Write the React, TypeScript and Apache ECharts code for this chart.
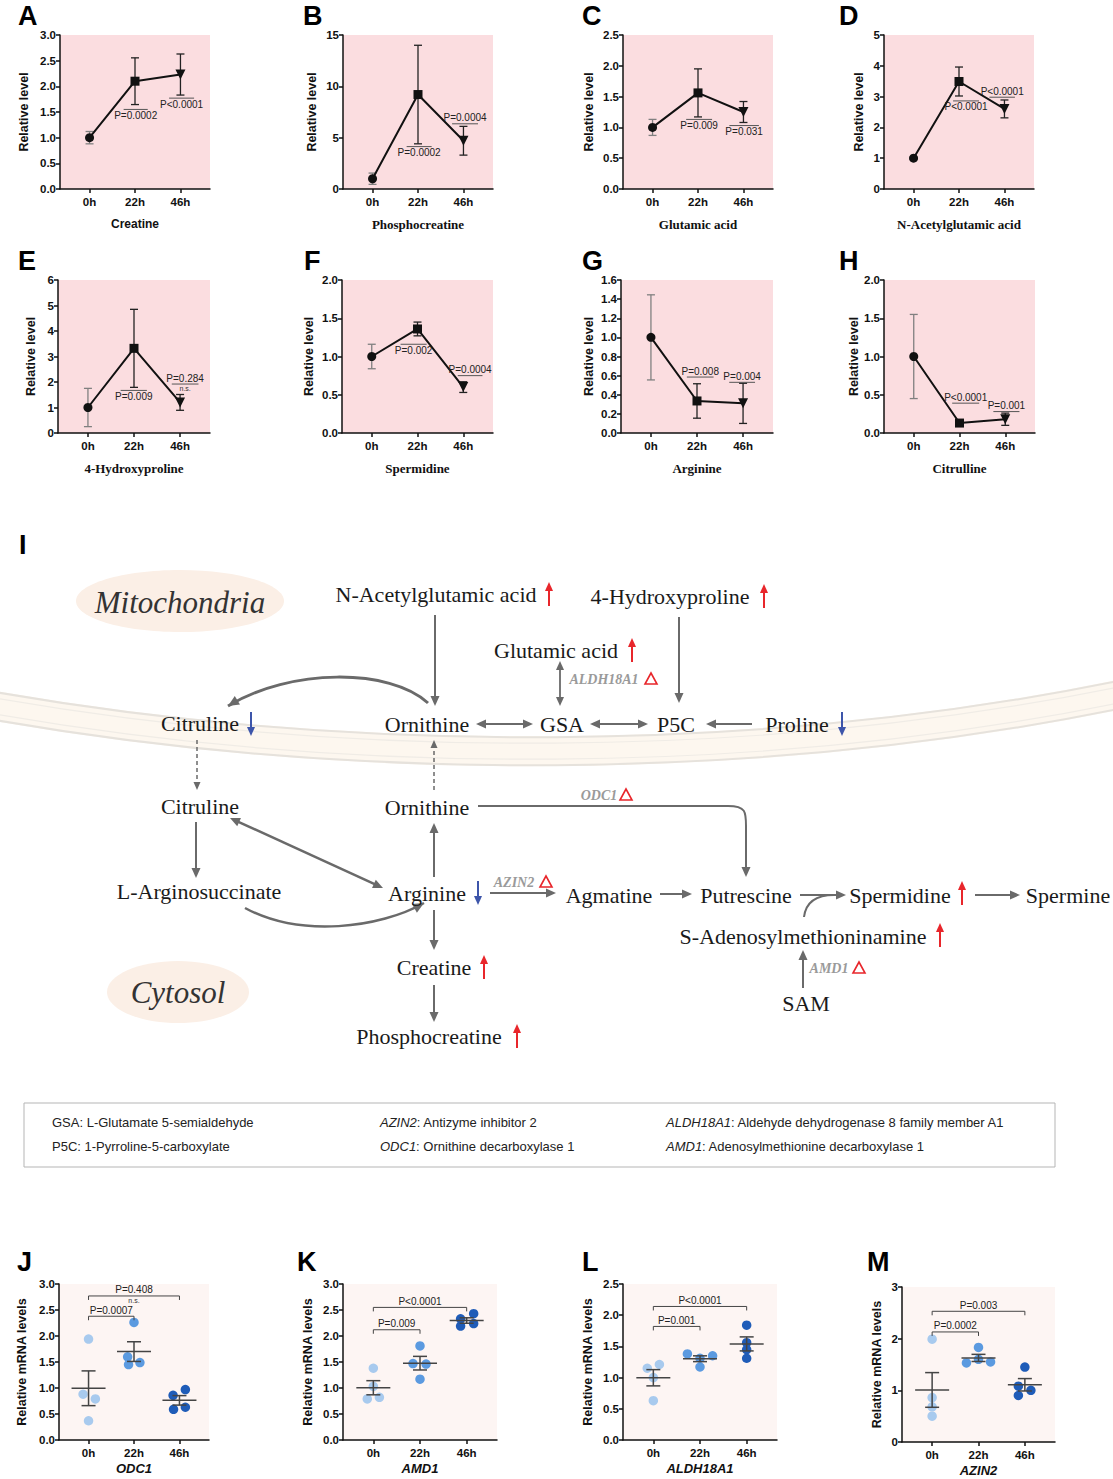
import React, { useEffect, useRef } from "react";
import * as echarts from "echarts";

// ---------------- DATA ----------------
const timeLabels = ["0h", "22h", "46h"];

// Panels A-H : mean and error bar half-length
const creatineMean = [1.0, 2.1, 2.23];
const creatineErr = [0.12, 0.455, 0.4];
const phosphocreatineMean = [1.0, 9.2, 4.7];
const phosphocreatineErr = [0.55, 4.8, 1.4];
const glutamicMean = [1.0, 1.56, 1.25];
const glutamicErr = [0.13, 0.39, 0.17];
const nagMean = [1.0, 3.49, 2.6];
const nagErr = [0.04, 0.47, 0.29];
const hypMean = [1.0, 3.32, 1.2];
const hypErr = [0.75, 1.53, 0.31];
const spermidineMean = [1.0, 1.36, 0.6];
const spermidineErr = [0.16, 0.09, 0.07];
const arginineMean = [1.0, 0.335, 0.31];
const arginineErr = [0.445, 0.18, 0.21];
const citrullineMean = [1.0, 0.13, 0.18];
const citrullineErr = [0.55, 0.02, 0.08];

// stat annotations: [timeIndex, y, lineFrom, lineTo, text, side, subText]
const creatineAnn = [[1, 1.55, -0.25, 0.28, "P=0.0002", "below", ""], [2, 1.77, -0.25, 0.3, "P<0.0001", "below", ""]];
const phosphocreatineAnn = [[1, 4.13, -0.25, 0.3, "P=0.0002", "below", ""], [2, 6.35, -0.25, 0.32, "P=0.0004", "above", ""]];
const glutamicAnn = [[1, 1.13, -0.26, 0.31, "P=0.009", "below", ""], [2, 1.03, -0.31, 0.34, "P=0.031", "below", ""]];
const nagAnn = [[1, 2.86, -0.13, 0.44, "P<0.0001", "below", ""], [2, 2.98, -0.33, 0.23, "P<0.0001", "above", ""]];
const hypAnn = [[1, 1.67, -0.29, 0.28, "P=0.009", "below", ""], [2, 1.92, -0.18, 0.4, "P=0.284", "above", "n.s."]];
const spermidineAnn = [[1, 1.16, -0.37, 0.2, "P=0.002", "below", ""], [2, 0.75, -0.12, 0.42, "P=0.0004", "above", ""]];
const arginineAnn = [[1, 0.585, -0.22, 0.36, "P=0.008", "above", ""], [2, 0.53, -0.3, 0.26, "P=0.004", "above", ""]];
const citrullineAnn = [[1, 0.39, -0.16, 0.43, "P<0.0001", "above", ""], [2, 0.28, -0.26, 0.31, "P=0.001", "above", ""]];

const metaboliteNames = ["Creatine", "Phosphocreatine", "Glutamic acid", "N-Acetylglutamic acid", "4-Hydroxyproline", "Spermidine", "Arginine", "Citrulline"];
const yMaxAH = [3, 15, 2.5, 5, 6, 2.0, 1.6, 2.0];
const yStepAH = [0.5, 5, 0.5, 1, 1, 0.5, 0.2, 0.5];
const yDecAH = [1, 0, 1, 0, 0, 1, 1, 1];

// Panels J-M : individual replicates
const odc1Values = [[1.94, 0.88, 0.79, 0.37], [2.26, 1.6, 1.49, 1.45], [0.97, 0.86, 0.63, 0.59]];
const amd1Values = [[1.38, 1.03, 0.79, 0.82], [1.81, 1.47, 1.46, 1.17], [2.33, 2.43, 2.19, 2.24]];
const aldh18a1Values = [[1.21, 1.15, 1.0, 0.63], [1.38, 1.31, 1.35, 1.17], [1.84, 1.56, 1.45, 1.31]];
const azin2Values = [[1.99, 0.86, 0.68, 0.5], [1.83, 1.6, 1.55, 1.53], [1.45, 1.08, 1.0, 0.9]];
// horizontal scatter offsets of the replicates
const odc1Jitter = [[0, -0.12, 0.15, 0], [0, -0.14, 0.13, -0.12], [0.13, -0.14, 0.13, -0.13]];
const amd1Jitter = [[0, 0, -0.13, 0.13], [0, -0.15, 0.13, 0], [-0.13, 0.15, -0.13, 0.15]];
const aldh18a1Jitter = [[0.13, -0.13, 0, 0], [-0.27, 0, 0.27, 0], [0, 0, 0, 0]];
const azin2Jitter = [[0, 0, 0, 0], [0, 0, 0.26, -0.26], [0, -0.14, 0.13, -0.14]];
// brackets: [fromIndex, toIndex, y, text, subText]
const odc1Brackets = [[0, 1, 2.38, "P=0.0007", ""], [0, 2, 2.77, "P=0.408", "n.s."]];
const amd1Brackets = [[0, 1, 2.12, "P=0.009", ""], [0, 2, 2.55, "P<0.0001", ""]];
const aldh18a1Brackets = [[0, 1, 1.82, "P=0.001", ""], [0, 2, 2.14, "P<0.0001", ""]];
const azin2Brackets = [[0, 1, 2.13, "P=0.0002", ""], [0, 2, 2.53, "P=0.003", ""]];
const geneNames = ["ODC1", "AMD1", "ALDH18A1", "AZIN2"];
const yMaxJM = [3, 3, 2.5, 3];
const yStepJM = [0.5, 0.5, 0.5, 1];
const yDecJM = [1, 1, 1, 0];

// ---------------- STYLE / LAYOUT ----------------
const SANS = '"Liberation Sans", Arial, sans-serif';
const SERIF = '"Liberation Serif", "Times New Roman", serif';
const PINK = "#fbdde0";
const PALE = "#fdf5f3";
const GROUP_COLORS = ["#a8caee", "#5b9ae0", "#1f5cb8"];
const gridsAH = [
  [60, 35, 150, 154], [343, 35, 150, 154], [623, 35, 150, 154], [884, 35, 150, 154],
  [58, 280, 152, 153], [342, 280, 151, 153], [621, 280, 152, 153], [884, 280, 151, 153],
];
const nameGapAH = [30, 25, 28, 19, 21, 27, 26, 19];
const gridsJM = [[59, 1284, 150, 156], [343, 1284, 154, 156], [623, 1284, 154, 156], [902, 1287, 153, 155]];
const nameGapJM = [31, 29, 29, 19];
const letters: [string, number, number][] = [
  ["A", 18, 16], ["B", 303, 16], ["C", 582, 16], ["D", 839, 16],
  ["E", 18, 261], ["F", 304, 261], ["G", 582, 261], ["H", 839, 261],
  ["I", 19, 545],
  ["J", 17, 1262], ["K", 297, 1262], ["L", 582, 1262], ["M", 867, 1262],
];
const markerShapes = ["circle", "rect", "path://M0,0L10,0L5,9Z"];
const markerSizes = [9, 9, 10];

// pathway labels
const pathwayNodes: [string, number, number][] = [
  ["N-Acetylglutamic acid", 436, 594], ["4-Hydroxyproline", 670, 596], ["Glutamic acid", 556, 650],
  ["Citruline", 200, 723], ["Ornithine", 427, 724], ["GSA", 562, 724], ["P5C", 676, 724], ["Proline", 797, 724],
  ["Citruline", 200, 806], ["Ornithine", 427, 807],
  ["L-Arginosuccinate", 199, 891], ["Arginine", 427, 893], ["Agmatine", 609, 895], ["Putrescine", 746, 895],
  ["Spermidine", 900, 895], ["Spermine", 1068, 895], ["S-Adenosylmethioninamine", 803, 936],
  ["Creatine", 434, 967], ["SAM", 806, 1003], ["Phosphocreatine", 429, 1036],
];
const enzymeLabels: [string, number, number][] = [["ALDH18A1", 604, 679], ["ODC1", 599, 795], ["AZIN2", 514, 882], ["AMD1", 829, 968]];
const enzymeDeltas: [number, number][] = [[651, 679], [626, 795], [546, 882], [859, 968]];
const upMarks: [number, number][] = [[549, 594], [764, 596], [632, 650], [962, 893], [940, 935], [484, 967], [517, 1036]];
const downMarks: [number, number][] = [[251, 724], [842, 724], [478, 893]];
const legendRows: [string, string, number, number][] = [
  ["GSA", ": L-Glutamate 5-semialdehyde", 52, 1122], ["AZIN2", ": Antizyme inhibitor 2", 380, 1122],
  ["ALDH18A1", ": Aldehyde dehydrogenase 8 family member A1", 666, 1122],
  ["P5C", ": 1-Pyrroline-5-carboxylate", 52, 1146], ["ODC1", ": Ornithine decarboxylase 1", 380, 1146],
  ["AMD1", ": Adenosylmethionine decarboxylase 1", 666, 1146],
];

// ---------------- HELPERS ----------------
const G = "#6a6a6a";
const RED = "#e8262b";
const BLUE = "#3d55aa";

function txt(text: string, x: number, y: number, font: string, fill = "#222", align = "center", valign = "middle"): any {
  return {
    type: "text", x, y, silent: true,
    style: { text, font, fill, textAlign: align, align, textVerticalAlign: valign, verticalAlign: valign },
  };
}
function head(x: number, y: number, ang: number, color: string, L = 10, W = 4.5): any {
  const c = Math.cos(ang), s = Math.sin(ang);
  return {
    type: "polygon", silent: true,
    shape: { points: [[x, y], [x - L * c - W * s, y - L * s + W * c], [x - L * c + W * s, y - L * s - W * c]] },
    style: { fill: color },
  };
}
function arrow(x1: number, y1: number, x2: number, y2: number, o: any = {}): any[] {
  const color = o.color || G, w = o.width || 2, L = o.L || 10, W = o.W || 4.5;
  const ang = Math.atan2(y2 - y1, x2 - x1);
  const c = Math.cos(ang), s = Math.sin(ang);
  const els: any[] = [];
  let sx = x1, sy = y1;
  if (o.both) {
    sx = x1 + (L - 2) * c; sy = y1 + (L - 2) * s;
    els.push(head(x1, y1, ang + Math.PI, color, L, W));
  }
  const style: any = { stroke: color, lineWidth: w };
  if (o.dash) style.lineDash = [4, 3];
  els.push({ type: "line", silent: true, shape: { x1: sx, y1: sy, x2: x2 - (L - 2) * c, y2: y2 - (L - 2) * s }, style });
  els.push(head(x2, y2, ang, color, L, W));
  return els;
}
function curve(x1: number, y1: number, c1x: number, c1y: number, c2x: number, c2y: number, x2: number, y2: number, o: any = {}): any[] {
  const color = o.color || G, w = o.width || 2.5;
  const els: any[] = [{
    type: "bezierCurve", silent: true,
    shape: { x1, y1, cpx1: c1x, cpy1: c1y, cpx2: c2x, cpy2: c2y, x2, y2 },
    style: { stroke: color, lineWidth: w, fill: "none" },
  }];
  if (!o.noHead) els.push(head(x2, y2, Math.atan2(y2 - c2y, x2 - c2x), color, 11, 5));
  return els;
}
function delta(x: number, y: number): any {
  return { type: "polygon", silent: true, shape: { points: [[x, y - 6], [x - 6, y + 5], [x + 6, y + 5]] }, style: { fill: "none", stroke: RED, lineWidth: 1.6 } };
}

function buildGraphic(): any[] {
  const els: any[] = [];
  // membrane band
  const band = (dy: number, stroke: string, lw: number) => ({
    type: "bezierCurve", silent: true,
    shape: { x1: -5, y1: 706 + dy, cpx1: 350, cpy1: 768 + dy, cpx2: 760, cpy2: 768 + dy, x2: 1118, y2: 695 + dy },
    style: { stroke, lineWidth: lw, fill: "none" },
  });
  els.push(band(0, "#fdf7ef", 30));
  els.push(band(-14, "#e6e2dc", 2));
  els.push(band(14, "#e6e2dc", 2));
  els.push(band(-8, "#f0ece6", 1.2));
  els.push(band(8, "#f0ece6", 1.2));
  // compartments
  els.push({ type: "ellipse", silent: true, shape: { cx: 180, cy: 601, rx: 104, ry: 31 }, style: { fill: "#fbefe6" } });
  els.push(txt("Mitochondria", 180, 602, `italic 31px ${SERIF}`, "#333"));
  els.push({ type: "ellipse", silent: true, shape: { cx: 178, cy: 992, rx: 71, ry: 31 }, style: { fill: "#fbefe6" } });
  els.push(txt("Cytosol", 178, 992, `italic 31px ${SERIF}`, "#333"));
  // arrows
  els.push(...arrow(435, 615, 435, 706));
  els.push(...arrow(679, 617, 679, 703));
  els.push(...arrow(560, 661, 560, 706, { both: true, width: 1.8, L: 9, W: 4 }));
  els.push(...arrow(476, 724, 533, 724, { both: true }));
  els.push(...arrow(590, 724, 648, 724, { both: true }));
  els.push(...arrow(752, 724, 706, 724));
  els.push(...curve(428, 703, 390, 668, 290, 668, 228, 706, { width: 3 }));
  els.push(...arrow(197, 740, 197, 790, { dash: true, width: 1.5, L: 8, W: 3.5 }));
  els.push(...arrow(434, 790, 434, 740, { dash: true, width: 1.5, L: 8, W: 3.5 }));
  els.push(...arrow(196, 822, 196, 878));
  els.push(...arrow(230, 818, 383, 888, { both: true, width: 2.5 }));
  els.push(...curve(245, 908, 300, 938, 380, 928, 424, 903, { width: 2.5 }));
  els.push(...arrow(434, 877, 434, 823));
  els.push({ type: "line", silent: true, shape: { x1: 478, y1: 806, x2: 728, y2: 806 }, style: { stroke: G, lineWidth: 2 } });
  els.push({ type: "bezierCurve", silent: true, shape: { x1: 728, y1: 806, cpx1: 746, cpy1: 806, cpx2: 746, cpy2: 812, x2: 746, y2: 826 }, style: { stroke: G, lineWidth: 2, fill: "none" } });
  els.push(...arrow(746, 826, 746, 877));
  els.push(...arrow(490, 893, 556, 893));
  els.push(...arrow(660, 894, 692, 894));
  els.push(...arrow(800, 895, 846, 895));
  els.push(...curve(804, 917, 806, 900, 818, 894, 838, 895, { width: 2, noHead: true }));
  els.push(...arrow(975, 895, 1020, 895));
  els.push(...arrow(803, 988, 803, 950));
  els.push(...arrow(434, 910, 434, 950));
  els.push(...arrow(434, 985, 434, 1022));
  // labels
  pathwayNodes.forEach(([t, x, y]) => els.push(txt(t, x, y, `22px ${SERIF}`, "#1a1a1a")));
  enzymeLabels.forEach(([t, x, y]) => els.push(txt(t, x, y, `italic bold 14px ${SERIF}`, "#9a9a9a")));
  enzymeDeltas.forEach(([x, y]) => els.push(delta(x, y)));
  upMarks.forEach(([x, y]) => els.push(...arrow(x, y + 12, x, y - 12, { color: RED, width: 2, L: 9, W: 4 })));
  downMarks.forEach(([x, y]) => els.push(...arrow(x, y - 12, x, y + 12, { color: BLUE, width: 2, L: 9, W: 4 })));
  // legend box
  els.push({ type: "rect", silent: true, shape: { x: 24, y: 1103, width: 1031, height: 64 }, style: { fill: "#fff", stroke: "#b5b5b5", lineWidth: 1 } });
  legendRows.forEach(([k, d, x, y]) => {
    const italic = k !== "GSA" && k !== "P5C";
    els.push({
      type: "text", x, y, silent: true,
      style: {
        text: `{k|${k}}{d|${d}}`, font: `13px ${SANS}`, fill: "#222", textAlign: "left", align: "left",
        textVerticalAlign: "middle", verticalAlign: "middle",
        rich: {
          k: { fontFamily: SANS, fontSize: 13, fontStyle: italic ? "italic" : "normal", fill: "#222", color: "#222" },
          d: { fontFamily: SANS, fontSize: 13, fill: "#222", color: "#222" },
        },
      },
    });
  });
  // panel letters
  letters.forEach(([t, x, y]) => els.push(txt(t, x, y, `bold 27px ${SANS}`, "#000", "left")));
  return els;
}

function xAxisOf(gi: number, name: string, nameFont: any, gap: number): any {
  return {
    type: "value", gridIndex: gi, min: -0.65, max: 2.65,
    name, nameLocation: "middle", nameGap: gap, nameTextStyle: { color: "#111", ...nameFont },
    axisLine: { show: true, onZero: false, lineStyle: { color: "#111", width: 1.5 } },
    axisTick: { show: true, customValues: [0, 1, 2], length: 4, lineStyle: { color: "#111", width: 1.5 } },
    axisLabel: {
      show: true, customValues: [0, 1, 2], formatter: (v: number) => timeLabels[Math.round(v)],
      color: "#111", fontFamily: SANS, fontWeight: "bold", fontSize: 11.5, margin: 7,
    },
    splitLine: { show: false },
  };
}
function yAxisOf(gi: number, max: number, step: number, dec: number, name: string, gap: number): any {
  return {
    type: "value", gridIndex: gi, min: 0, max, interval: step,
    name, nameLocation: "middle", nameGap: gap,
    nameTextStyle: { color: "#111", fontFamily: SANS, fontWeight: "bold", fontSize: 12.5 },
    axisLine: { show: true, onZero: false, lineStyle: { color: "#111", width: 1.5 } },
    axisTick: { show: true, length: 4, lineStyle: { color: "#111", width: 1.5 } },
    axisLabel: { formatter: (v: number) => v.toFixed(dec), color: "#111", fontFamily: SANS, fontWeight: "bold", fontSize: 11.5, margin: 4 },
    splitLine: { show: false },
  };
}

function buildOption(): any {
  const grid: any[] = [], xAxis: any[] = [], yAxis: any[] = [], series: any[] = [];
  const means = [creatineMean, phosphocreatineMean, glutamicMean, nagMean, hypMean, spermidineMean, arginineMean, citrullineMean];
  const errs = [creatineErr, phosphocreatineErr, glutamicErr, nagErr, hypErr, spermidineErr, arginineErr, citrullineErr];
  const anns: any[][] = [creatineAnn, phosphocreatineAnn, glutamicAnn, nagAnn, hypAnn, spermidineAnn, arginineAnn, citrullineAnn];

  for (let i = 0; i < 8; i++) {
    const [l, t, w, h] = gridsAH[i];
    grid.push({ left: l, top: t, width: w, height: h, show: true, backgroundColor: PINK, borderWidth: 0 });
    const nameFont = i === 0
      ? { fontFamily: SANS, fontWeight: "bold", fontSize: 12 }
      : { fontFamily: SERIF, fontWeight: "bold", fontSize: 13 };
    xAxis.push(xAxisOf(i, metaboliteNames[i], nameFont, 29));
    yAxis.push(yAxisOf(i, yMaxAH[i], yStepAH[i], yDecAH[i], "Relative level", nameGapAH[i]));
    const mean = means[i], err = errs[i], ann = anns[i];
    series.push({
      type: "custom", xAxisIndex: i, yAxisIndex: i, clip: false, z: 2, silent: true,
      data: mean.map((m, k) => [k, m, err[k]]),
      renderItem: (params: any, api: any) => {
        const x = api.value(0), m = api.value(1), e = api.value(2);
        const a = api.coord([x, m + e]), b = api.coord([x, m - e]);
        const c = params.dataIndex === 0 ? "#808080" : "#222";
        return {
          type: "group", children: [
            { type: "line", shape: { x1: a[0], y1: a[1], x2: b[0], y2: b[1] }, style: { stroke: c, lineWidth: 1.3 } },
            { type: "line", shape: { x1: a[0] - 4, y1: a[1], x2: a[0] + 4, y2: a[1] }, style: { stroke: c, lineWidth: 1.3 } },
            { type: "line", shape: { x1: b[0] - 4, y1: b[1], x2: b[0] + 4, y2: b[1] }, style: { stroke: c, lineWidth: 1.3 } },
          ],
        };
      },
    });
    series.push({
      type: "line", xAxisIndex: i, yAxisIndex: i, z: 3, silent: true,
      data: mean.map((m, k) => ({ value: [k, m], symbol: markerShapes[k], symbolSize: markerSizes[k] })),
      lineStyle: { color: "#111", width: 2 }, itemStyle: { color: "#111" },
    });
    series.push({
      type: "custom", xAxisIndex: i, yAxisIndex: i, clip: false, z: 4, silent: true,
      data: ann.map((a) => [a[0], a[1]]),
      renderItem: (params: any, api: any) => {
        const a = ann[params.dataIndex];
        const p1 = api.coord([a[0] + a[2], a[1]]), p2 = api.coord([a[0] + a[3], a[1]]);
        const cx = (p1[0] + p2[0]) / 2, y = p1[1];
        const above = a[5] === "above";
        const ch: any[] = [
          { type: "line", shape: { x1: p1[0], y1: y, x2: p2[0], y2: y }, style: { stroke: "#555", lineWidth: 1 } },
          {
            type: "text", x: cx, y: above ? y - 1 : y + 1,
            style: { text: a[4], font: `10px ${SANS}`, fill: "#222", textAlign: "center", align: "center", textVerticalAlign: above ? "bottom" : "top", verticalAlign: above ? "bottom" : "top" },
          },
        ];
        if (a[6]) ch.push({ type: "text", x: cx, y: y + 1, style: { text: a[6], font: `7px ${SANS}`, fill: "#333", textAlign: "center", align: "center", textVerticalAlign: "top", verticalAlign: "top" } });
        return { type: "group", children: ch };
      },
    });
  }

  const vals = [odc1Values, amd1Values, aldh18a1Values, azin2Values];
  const jits = [odc1Jitter, amd1Jitter, aldh18a1Jitter, azin2Jitter];
  const brs: any[][] = [odc1Brackets, amd1Brackets, aldh18a1Brackets, azin2Brackets];
  for (let j = 0; j < 4; j++) {
    const gi = 8 + j;
    const [l, t, w, h] = gridsJM[j];
    grid.push({ left: l, top: t, width: w, height: h, show: true, backgroundColor: PALE, borderWidth: 0 });
    xAxis.push(xAxisOf(gi, geneNames[j], { fontFamily: SANS, fontWeight: "bold", fontStyle: "italic", fontSize: 13 }, 22));
    yAxis.push(yAxisOf(gi, yMaxJM[j], yStepJM[j], yDecJM[j], "Relative mRNA levels", nameGapJM[j]));
    const groups = vals[j], jit = jits[j], br = brs[j];
    groups.forEach((pts, g) => {
      series.push({
        type: "scatter", xAxisIndex: gi, yAxisIndex: gi, z: 2, silent: true, symbolSize: 9.5,
        itemStyle: { color: GROUP_COLORS[g], opacity: 1 },
        data: pts.map((v, k) => [g + jit[g][k], v]),
      });
    });
    const stats = groups.map((pts, g) => {
      const n = pts.length;
      const m = pts.reduce((s, v) => s + v, 0) / n;
      const sd = Math.sqrt(pts.reduce((s, v) => s + (v - m) * (v - m), 0) / (n - 1));
      return [g, m, sd / Math.sqrt(n)];
    });
    series.push({
      type: "custom", xAxisIndex: gi, yAxisIndex: gi, clip: false, z: 3, silent: true, data: stats,
      renderItem: (_p: any, api: any) => {
        const x = api.value(0), m = api.value(1), e = api.value(2);
        const c = api.coord([x, m]), a = api.coord([x, m + e]), b = api.coord([x, m - e]);
        const st = () => ({ stroke: "#444", lineWidth: 1.5 });
        return {
          type: "group", children: [
            { type: "line", shape: { x1: c[0] - 17, y1: c[1], x2: c[0] + 17, y2: c[1] }, style: st() },
            { type: "line", shape: { x1: a[0], y1: a[1], x2: b[0], y2: b[1] }, style: st() },
            { type: "line", shape: { x1: a[0] - 7, y1: a[1], x2: a[0] + 7, y2: a[1] }, style: st() },
            { type: "line", shape: { x1: b[0] - 7, y1: b[1], x2: b[0] + 7, y2: b[1] }, style: st() },
          ],
        };
      },
    });
    series.push({
      type: "custom", xAxisIndex: gi, yAxisIndex: gi, clip: false, z: 4, silent: true,
      data: br.map((b) => [b[0], b[2]]),
      renderItem: (params: any, api: any) => {
        const b = br[params.dataIndex];
        const p1 = api.coord([b[0], b[2]]), p2 = api.coord([b[1], b[2]]);
        const cx = (p1[0] + p2[0]) / 2, y = p1[1];
        const ch: any[] = [
          { type: "polyline", shape: { points: [[p1[0], y + 4], [p1[0], y], [p2[0], y], [p2[0], y + 4]] }, style: { stroke: "#444", lineWidth: 1, fill: "none" } },
          { type: "text", x: cx, y: y - 1, style: { text: b[3], font: `10px ${SANS}`, fill: "#222", textAlign: "center", align: "center", textVerticalAlign: "bottom", verticalAlign: "bottom" } },
        ];
        if (b[4]) ch.push({ type: "text", x: cx, y: y + 1, style: { text: b[4], font: `7px ${SANS}`, fill: "#333", textAlign: "center", align: "center", textVerticalAlign: "top", verticalAlign: "top" } });
        return { type: "group", children: ch };
      },
    });
  }

  return {
    animation: false,
    backgroundColor: "#fff",
    grid, xAxis, yAxis, series,
    graphic: { elements: buildGraphic() },
  };
}

export default function App() {
  const ref = useRef<HTMLDivElement>(null);
  useEffect(() => {
    const chart = echarts.init(ref.current!, undefined, { renderer: "svg" });
    chart.setOption(buildOption());
    return () => chart.dispose();
  }, []);
  return <div ref={ref} style={{ position: "absolute", left: 0, top: 0, width: 1113, height: 1479, background: "#fff" }} />;
}
